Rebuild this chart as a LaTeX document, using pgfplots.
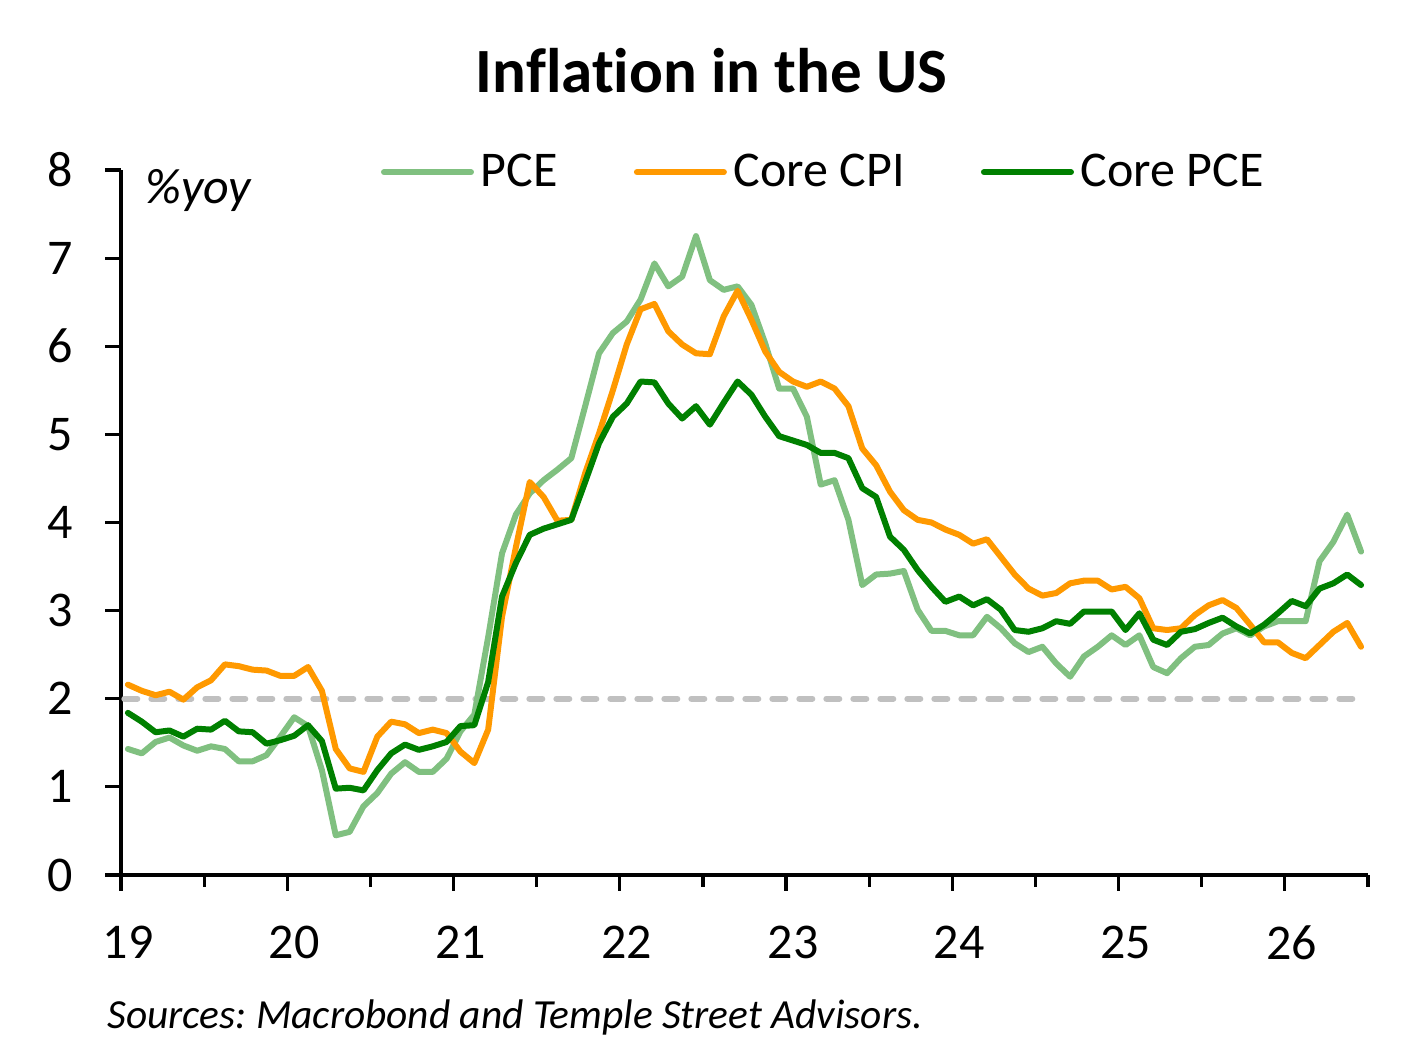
\documentclass[border=0pt]{standalone}
\usepackage{fontspec}
\setmainfont[Ligatures={NoCommon}]{Carlito}
\usepackage{pgfplots}
\usepackage{pgfplotstable}
\pgfplotsset{compat=1.18}
\definecolor{pcecol}{RGB}{128,192,128}
\definecolor{cpicol}{RGB}{255,153,0}
\definecolor{cpcecol}{RGB}{0,128,0}
\definecolor{refgray}{RGB}{192,192,192}
\pgfplotstableread{
m pce ccpi cpce
0 1.43 2.16 1.84
1 1.38 2.09 1.74
2 1.51 2.04 1.62
3 1.56 2.08 1.64
4 1.47 1.99 1.57
5 1.41 2.13 1.66
6 1.46 2.21 1.65
7 1.43 2.39 1.75
8 1.29 2.37 1.63
9 1.29 2.33 1.62
10 1.36 2.32 1.49
11 1.57 2.26 1.53
12 1.79 2.26 1.58
13 1.69 2.36 1.70
14 1.19 2.09 1.52
15 0.45 1.43 0.98
16 0.49 1.21 0.99
17 0.78 1.17 0.96
18 0.93 1.57 1.19
19 1.15 1.74 1.38
20 1.28 1.71 1.48
21 1.17 1.61 1.42
22 1.17 1.65 1.46
23 1.32 1.61 1.51
24 1.63 1.40 1.69
25 1.82 1.27 1.70
26 2.70 1.65 2.19
27 3.65 2.93 3.16
28 4.09 3.72 3.54
29 4.33 4.46 3.86
30 4.48 4.29 3.93
31 4.60 4.02 3.98
32 4.73 4.03 4.03
33 5.32 4.56 4.46
34 5.92 5.01 4.90
35 6.15 5.50 5.20
36 6.28 6.02 5.35
37 6.53 6.42 5.60
38 6.94 6.48 5.59
39 6.68 6.17 5.35
40 6.79 6.02 5.18
41 7.25 5.92 5.32
42 6.75 5.91 5.11
43 6.64 6.34 5.36
44 6.68 6.63 5.60
45 6.47 6.30 5.45
46 6.03 5.94 5.20
47 5.52 5.71 4.98
48 5.52 5.60 4.93
49 5.20 5.54 4.88
50 4.43 5.60 4.79
51 4.48 5.52 4.79
52 4.03 5.32 4.73
53 3.29 4.84 4.39
54 3.41 4.65 4.29
55 3.42 4.35 3.84
56 3.45 4.14 3.69
57 3.01 4.03 3.46
58 2.77 4.00 3.27
59 2.77 3.92 3.10
60 2.72 3.86 3.16
61 2.72 3.76 3.06
62 2.93 3.81 3.13
63 2.80 3.61 3.01
64 2.63 3.41 2.78
65 2.53 3.25 2.76
66 2.59 3.17 2.80
67 2.40 3.20 2.88
68 2.25 3.31 2.85
69 2.48 3.34 2.99
70 2.59 3.34 2.99
71 2.72 3.24 2.99
72 2.61 3.27 2.78
73 2.72 3.14 2.97
74 2.36 2.80 2.67
75 2.29 2.78 2.61
76 2.46 2.80 2.76
77 2.59 2.95 2.79
78 2.61 3.06 2.86
79 2.74 3.12 2.92
80 2.80 3.03 2.82
81 2.72 2.84 2.74
82 2.82 2.64 2.84
83 2.88 2.64 2.97
84 2.88 2.52 3.11
85 2.88 2.46 3.05
86 3.56 2.61 3.25
87 3.78 2.76 3.31
88 4.09 2.86 3.41
89 3.67 2.59 3.29
}\datatable
\begin{document}
\frenchspacing
\begin{tikzpicture}
\path[use as bounding box] (0pt,0pt) rectangle (710pt,-529pt);
\node[anchor=base, font=\bfseries\fontsize{31.5}{36}\selectfont] at (355.75pt,-46.5pt) {Inflation in the US};
\node[anchor=base west, inner sep=0pt, font=\itshape\fontsize{20.7}{25}\selectfont] at (53.5pt,-514pt) {Sources: Macrobond and Temple Street Advisors.};
\begin{axis}[
  at={(60.5pt,-437.5pt)}, anchor=south west,
  scale only axis, width=623.5pt, height=352.5pt,
  xmin=19, xmax=26.5, ymin=0, ymax=8,
  axis lines*=left,
  axis line style={line width=1.6pt, black},
  xtick={19,...,26}, xticklabels={19,20,21,22,23,24,25,26},
  minor xtick={19.5,20.5,...,26.5},
  ytick={0,...,8}, yticklabels={0,1,2,3,4,5,6,7,8},
  tick align=outside, major tick length=8pt, minor tick length=6pt,
  every tick/.style={line width=1.6pt, black},
  tick label style={font=\fontsize{25}{30}\selectfont},
  xticklabel style={yshift=-14pt, xshift=3.5pt},
  yticklabel style={xshift=-12.5pt},
  /pgf/number format/assume math mode=true,
  clip=false,
  legend columns=3,
  legend style={draw=none, fill=none, inner sep=0pt, outer sep=0pt,
    at={(axis description cs:0.2085,0.997)}, anchor=west,
    font=\fontsize{25}{30}\selectfont,
    nodes={inner sep=0pt},
    /tikz/every odd column/.append style={column sep=3.5pt},
    /tikz/every even column/.append style={column sep=38pt}},
  legend image code/.code={\draw[#1] (0pt,0pt) -- (43.5pt,0pt);},
  every axis plot/.append style={line width=3pt, line join=round, line cap=round},
]
\addplot[refgray, line width=3pt, line cap=round, dash pattern=on 6.5pt off 7pt, forget plot] coordinates {(19.02,2) (26.45,2)};
\addplot[pcecol] table[x expr={19+(\thisrow{m}+0.5)/12}, y=pce] {\datatable};
\addlegendentry{PCE}
\addplot[cpicol] table[x expr={19+(\thisrow{m}+0.5)/12}, y=ccpi] {\datatable};
\addlegendentry{Core CPI}
\addplot[cpcecol] table[x expr={19+(\thisrow{m}+0.5)/12}, y=cpce] {\datatable};
\addlegendentry{Core PCE}
\node[anchor=base west, inner sep=0pt, font=\itshape\fontsize{25}{30}\selectfont] at (axis description cs:0.0193,0.952) {\%yoy};
\end{axis}
\end{tikzpicture}
\end{document}
